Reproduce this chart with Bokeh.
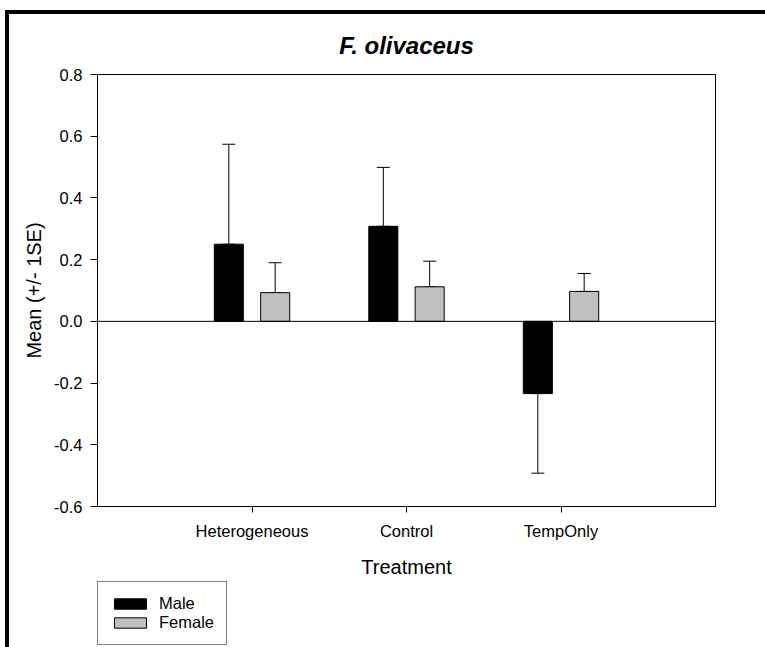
from bokeh.plotting import figure
from bokeh.models import (ColumnDataSource, FactorRange, Range1d, FixedTicker,
                          PrintfTickFormatter, Span, Whisker, TeeHead,
                          Legend, LegendItem)
from bokeh.layouts import column
from bokeh.transform import dodge
from bokeh.core.properties import value
from bokeh.embed import file_html
from bokeh.resources import INLINE

# ---- data ----
treatments = ["Heterogeneous", "Control", "TempOnly"]
male_mean = [0.250, 0.308, -0.234]
male_se = [0.324, 0.191, 0.258]
female_mean = [0.093, 0.112, 0.097]
female_se = [0.097, 0.083, 0.058]
y_ticks = [-0.6, -0.4, -0.2, 0.0, 0.2, 0.4, 0.6, 0.8]
series_labels = ["Male", "Female"]
series_colors = ["black", "#c0c0c0"]
title_text = "F. olivaceus"
x_label = "Treatment"
y_label = "Mean (+/- 1SE)"

FONT = "Liberation Sans"


def err_bounds(means, ses):
    lo, hi = [], []
    for m, s in zip(means, ses):
        end = m + s if m >= 0 else m - s
        lo.append(min(m, end))
        hi.append(max(m, end))
    return lo, hi


m_lo, m_hi = err_bounds(male_mean, male_se)
f_lo, f_hi = err_bounds(female_mean, female_se)

src = ColumnDataSource(dict(treatment=treatments, male=male_mean, female=female_mean,
                            m_lo=m_lo, m_hi=m_hi, f_lo=f_lo, f_hi=f_hi))

p = figure(x_range=FactorRange(factors=treatments, range_padding=0.5,
                               range_padding_units="absolute"),
           y_range=Range1d(-0.6, 0.8),
           width=756, height=566, output_backend="svg", toolbar_location=None,
           min_border_left=88, min_border_right=50, min_border_top=60,
           min_border_bottom=74)

p.outline_line_color = "black"
p.outline_line_width = 1
p.xgrid.visible = False
p.ygrid.visible = False
p.background_fill_color = "white"
p.border_fill_color = "white"

p.title.text = title_text
p.title.align = "center"
p.title.text_font = FONT
p.title.text_font_size = "24px"
p.title.text_font_style = "bold italic"
p.title.text_color = "black"
p.title.standoff = 31

OFF = 0.15
BW = 0.188

r_m = p.vbar(x=dodge("treatment", -OFF, range=p.x_range), top="male", bottom=0,
             width=BW, source=src, fill_color=series_colors[0], line_color="black",
             line_width=1)
r_f = p.vbar(x=dodge("treatment", OFF, range=p.x_range), top="female", bottom=0,
             width=BW, source=src, fill_color=series_colors[1], line_color="black",
             line_width=1)

for off, lo, hi in ((-OFF, "m_lo", "m_hi"), (OFF, "f_lo", "f_hi")):
    w = Whisker(base=dodge("treatment", off, range=p.x_range), lower=lo, upper=hi,
                source=src, line_color="black", line_width=1,
                upper_head=TeeHead(size=13, line_color="black", line_width=1),
                lower_head=TeeHead(size=13, line_color="black", line_width=1))
    p.add_layout(w)

p.add_layout(Span(location=0, dimension="width", line_color="black", line_width=1))

# axes
xa = p.xaxis[0]
xa.axis_line_color = "black"
xa.major_tick_out = 6
xa.major_tick_in = 0
xa.major_tick_line_color = "black"
xa.major_label_text_font = FONT
xa.major_label_text_font_size = "16.5px"
xa.major_label_text_color = "black"
xa.major_label_standoff = 9
xa.axis_label = x_label
xa.axis_label_text_font = FONT
xa.axis_label_text_font_size = "20px"
xa.axis_label_text_font_style = "normal"
xa.axis_label_text_color = "black"
xa.axis_label_standoff = 13

ya = p.yaxis[0]
ya.ticker = FixedTicker(ticks=y_ticks)
ya.formatter = PrintfTickFormatter(format="%.1f")
ya.axis_line_color = "black"
ya.major_tick_out = 7
ya.major_tick_in = 0
ya.minor_tick_line_color = None
ya.major_tick_line_color = "black"
ya.major_label_text_font = FONT
ya.major_label_text_font_size = "16.5px"
ya.major_label_text_color = "black"
ya.major_label_standoff = 8
ya.axis_label = y_label
ya.axis_label_text_font = FONT
ya.axis_label_text_font_size = "20px"
ya.axis_label_text_font_style = "normal"
ya.axis_label_text_color = "black"
ya.axis_label_standoff = 6

# ---- legend strip below the chart (proxy renderers hold no visible data) ----
lg = figure(width=756, height=67, output_backend="svg", toolbar_location=None,
            x_range=Range1d(0, 1), y_range=Range1d(0, 1),
            x_axis_location=None, y_axis_location=None,
            min_border_left=0, min_border_right=0, min_border_top=0,
            min_border_bottom=0)
lg.outline_line_color = None
lg.xgrid.visible = False
lg.ygrid.visible = False
lg.border_fill_color = "white"
lg_src = ColumnDataSource(dict(x=[float("nan")], top=[float("nan")]))
lr_m = lg.vbar(x="x", top="top", width=0.1, source=lg_src,
               fill_color=series_colors[0], line_color="black", line_width=1)
lr_f = lg.vbar(x="x", top="top", width=0.1, source=lg_src,
               fill_color=series_colors[1], line_color="black", line_width=1)

legend = Legend(items=[LegendItem(label=value(series_labels[0]), renderers=[lr_m]),
                       LegendItem(label=value(series_labels[1]), renderers=[lr_f])],
                location=(0, 2), orientation="vertical",
                glyph_width=40, glyph_height=13, label_standoff=9, padding=12,
                spacing=0, margin=0, label_height=16,
                label_text_font=FONT, label_text_font_size="16.5px",
                label_text_color="black",
                border_line_color="black", border_line_width=1,
                background_fill_color="white", background_fill_alpha=1)
lg.add_layout(legend)

layout = column(p, lg, spacing=0)
layout.styles = {"margin-left": "5px", "margin-top": "10px",
                 "border-left": "4px solid black", "border-top": "4px solid black"}

open("out.html", "w").write(file_html(layout, INLINE))
